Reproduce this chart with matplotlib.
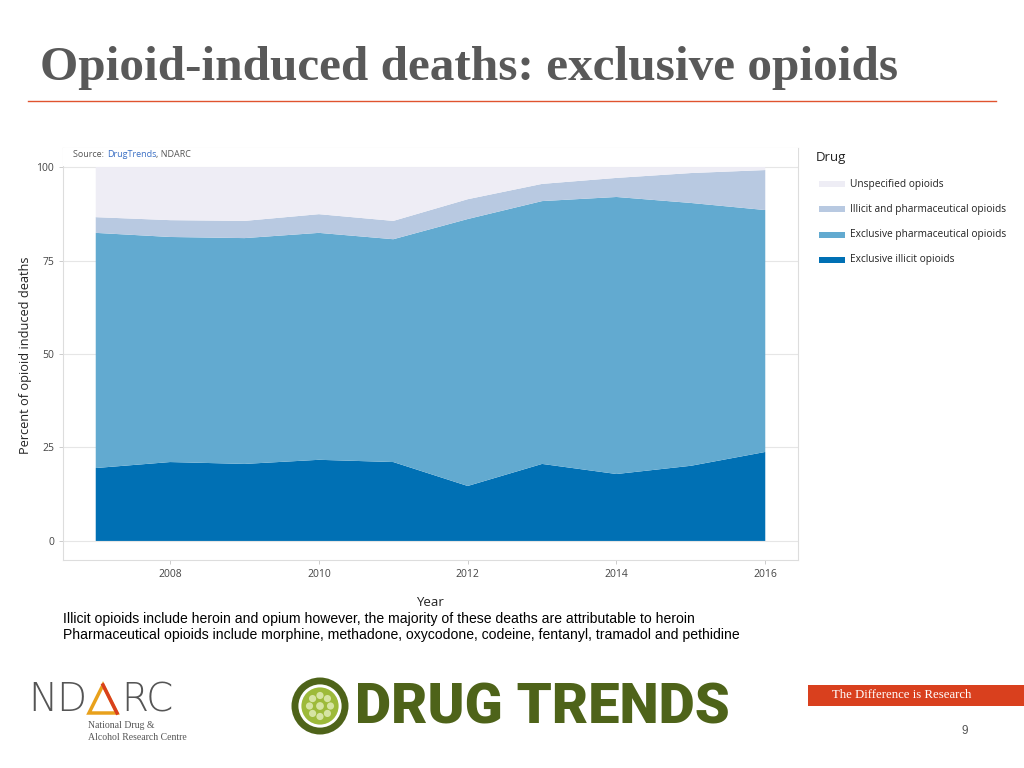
import numpy as np
import matplotlib
matplotlib.use('Agg')
from matplotlib import pyplot as plt
from matplotlib.patches import Circle, Rectangle, Polygon

# data (percent of opioid induced deaths, stacked)
years = [2007, 2008, 2009, 2010, 2011, 2012, 2013, 2014, 2015, 2016]
excl_illicit = [19.5, 21.1, 20.6, 21.7, 21.1, 14.7, 20.6, 17.9, 20.1, 23.8]
excl_pharma = [62.9, 60.2, 60.4, 60.7, 59.6, 71.4, 70.3, 74.1, 70.3, 64.7]
illicit_and_pharma = [4.2, 4.5, 4.6, 5.0, 4.9, 5.3, 4.6, 5.1, 8.0, 10.7]
unspecified = [13.4, 14.2, 14.4, 12.6, 14.4, 8.6, 4.5, 2.9, 1.6, 0.8]

series_names = ['Unspecified opioids', 'Illicit and pharmaceutical opioids',
                'Exclusive pharmaceutical opioids', 'Exclusive illicit opioids']
colors = ['#EEEDF5', '#B8C9E1', '#62AAD0', '#0070B4']

yticks = [0, 25, 50, 75, 100]
xticks = [2008, 2010, 2012, 2014, 2016]

caption1 = 'Illicit opioids include heroin and opium however, the majority of these deaths are attributable to heroin'
caption2 = 'Pharmaceutical opioids include morphine, methadone, oxycodone, codeine, fentanyl, tramadol and pethidine'

W, H = 1024, 768
fig = plt.figure(figsize=(W / 100, H / 100), dpi=100)


def fx(px):
    return px / W


def fy(py):
    return 1 - py / H


# title + red rule
fig.text(fx(40), fy(68), 'Opioid-induced deaths: exclusive opioids', family='Liberation Serif',
         fontweight='bold', fontsize=35.5, color='#595959', va='center', ha='left')
fig.add_artist(plt.Line2D([fx(28), fx(996)], [fy(101), fy(101)], color='#E0532F', lw=1))

# main chart
ax = fig.add_axes([fx(63), fy(560), fx(798) - fx(63), fy(148) - fy(560)])
ax.stackplot(years, excl_illicit, excl_pharma, illicit_and_pharma, unspecified,
             colors=colors[::-1], lw=0)
ax.set_xlim(2006.56, 2016.44)
ax.set_ylim(-5.1, 105.1)
ax.set_yticks(yticks)
ax.set_xticks(xticks)
ax.grid(axis='y', color='#E6E6E6', lw=0.8)
ax.set_axisbelow(True)
for s in ax.spines.values():
    s.set_color('#DDDDDD')
    s.set_linewidth(0.8)
ax.tick_params(colors='#CCCCCC', labelcolor='#444444', labelsize=7.5, length=3, width=0.7)
for lbl in ax.get_xticklabels() + ax.get_yticklabels():
    lbl.set_family('Open Sans')
fig.text(fx(430), fy(602), 'Year', family='Open Sans', fontsize=9.5, color='#222222',
         ha='center', va='center')
fig.text(fx(26), fy(355), 'Percent of opioid induced deaths', family='Open Sans', fontsize=9.2,
         color='#222222', ha='center', va='center', rotation=90)

# source strip across top of panel
ax.add_patch(Rectangle((2006.56, 100.3), 9.88, 4.8, facecolor='white', edgecolor='none', zorder=3))
t1 = ax.text(2006.7, 103.3, 'Source: ', fontsize=6.5, color='#555555', family='Open Sans',
             va='center', zorder=4)
t2 = ax.annotate('DrugTrends', xy=(1, 0), xycoords=t1, va='bottom', fontsize=6.5,
                 color='#3A6FC4', family='Open Sans', zorder=4)
ax.annotate(', NDARC', xy=(1, 0), xycoords=t2, va='bottom', fontsize=6.5,
            color='#555555', family='Open Sans', zorder=4)

# legend
fig.text(fx(816), fy(158), 'Drug', family='Open Sans', fontsize=9.5, color='#222222', va='center')
for i, (name, c) in enumerate(zip(series_names, colors)):
    yy = 184 + i * 25.3
    fig.add_artist(Rectangle((fx(819), fy(yy + 3)), fx(26), 6 / H, facecolor=c,
                             edgecolor='none', transform=fig.transFigure))
    fig.text(fx(850), fy(yy), name, family='Open Sans', fontsize=7.3, color='#222222', va='center')

# captions
fig.text(fx(63), fy(619), caption1, family='Liberation Sans', fontsize=10.1, color='black', va='center')
fig.text(fx(63), fy(635), caption2, family='Liberation Sans', fontsize=10.1, color='black', va='center')

# footer: NDARC logo
fig.text(fx(28), fy(700), 'ND', family='DejaVu Sans', fontweight='light', fontsize=28,
         color='#555555', va='center')
fig.text(fx(121), fy(700), 'RC', family='DejaVu Sans', fontweight='light', fontsize=28,
         color='#555555', va='center')
fig.add_artist(Polygon([[fx(89), fy(713)], [fx(103), fy(685)], [fx(117), fy(713)]], closed=True,
                       fill=False, edgecolor='#E8A11C', lw=2.5, transform=fig.transFigure))
fig.add_artist(plt.Line2D([fx(103), fx(117)], [fy(685), fy(713)], color='#D9401E', lw=2.5))
fig.text(fx(88), fy(726), 'National Drug &', family='Liberation Serif', fontsize=7, color='#555555', va='center')
fig.text(fx(88), fy(737), 'Alcohol Research Centre', family='Liberation Serif', fontsize=7,
         color='#555555', va='center')

# footer: DRUG TRENDS logo
lax = fig.add_axes([fx(290), fy(736), fx(60), 60 / H])
lax.set_xlim(-1, 1)
lax.set_ylim(-1, 1)
lax.set_aspect('equal')
lax.axis('off')
lax.add_patch(Circle((0, 0), 0.95, facecolor='#4E6319', edgecolor='none'))
lax.add_patch(Circle((0, 0), 0.72, facecolor='white', edgecolor='none'))
lax.add_patch(Circle((0, 0), 0.62, facecolor='#9DBA3A', edgecolor='none'))
for a in np.linspace(0, 2 * np.pi, 9)[:-1]:
    lax.add_patch(Circle((0.35 * np.cos(a), 0.35 * np.sin(a)), 0.12, facecolor='#D6E4A3', edgecolor='none'))
lax.add_patch(Circle((0, 0), 0.13, facecolor='#D6E4A3', edgecolor='none'))
logo = fig.text(fx(355), fy(708), 'DRUG TRENDS', family='Roboto', fontweight='black',
                fontsize=40, color='#4E6319', va='center', ha='left')
# shrink the logo text to the width it has in the reference (355..730 px)
fig.canvas.draw()
wpx = logo.get_window_extent().width
logo.set_fontsize(40 * 375 / wpx)

# footer: red banner + page number
fig.add_artist(Rectangle((fx(808), fy(706)), fx(216), 21 / H, facecolor='#D9401E',
                         edgecolor='none', transform=fig.transFigure))
fig.text(fx(902), fy(695.5), 'The Difference is Research', family='Liberation Serif', fontsize=9.2,
         color='white', va='center', ha='center')
fig.text(fx(965), fy(731), '9', family='Liberation Sans', fontsize=8.5, color='#555555', va='center', ha='center')

fig.savefig('out.png', dpi=100)
